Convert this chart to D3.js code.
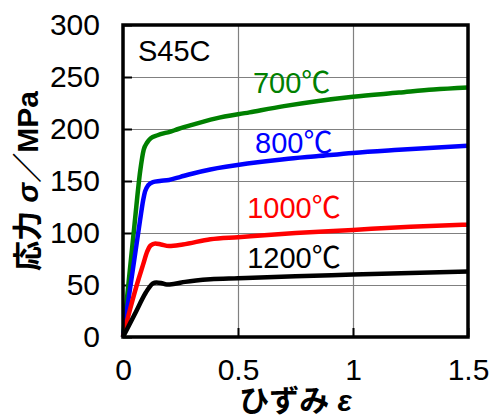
<!DOCTYPE html>
<html>
<head>
<meta charset="utf-8">
<script src="https://cdn.jsdelivr.net/npm/d3@7"></script>
<style>
  body { margin: 0; background: #fff; }
  text { font-family: "Liberation Sans", Arial, "Noto Sans CJK JP", sans-serif; }
</style>
</head>
<body>
<div id="chart"></div>
<script>
// strain / stress readings for S45C at each temperature
const curve700 = [[0,0],[0.05,108],[0.075,160],[0.09,180],[0.105,187],[0.12,191],[0.15,194],[0.18,196],[0.2,197],[0.24,200],[0.3,204],[0.4,210],[0.55,216],[0.7,222],[0.85,227],[1.0,231],[1.2,235],[1.35,238],[1.5,240]];
const curve800 = [[0,0],[0.074,112],[0.088,132],[0.096,140],[0.11,146],[0.13,149],[0.16,150],[0.2,151],[0.25,154],[0.3,157],[0.38,161],[0.55,167],[0.7,171],[0.85,174],[1.0,177],[1.2,180],[1.5,184]];
const curve1000 = [[0,0],[0.03,26],[0.06,50],[0.088,70],[0.105,82],[0.12,88],[0.14,90],[0.165,89],[0.2,87.5],[0.26,89],[0.38,94],[0.5,96],[0.75,100],[1.0,103],[1.25,106],[1.5,108]];
const curve1200 = [[0,0],[0.05,21.5],[0.1,43],[0.115,48],[0.13,51.5],[0.145,52.5],[0.165,52],[0.19,50.5],[0.22,51],[0.27,53],[0.38,55.5],[0.5,56.5],[0.75,58.5],[1.0,60],[1.25,61.5],[1.5,63]];

const seriesNames = ['700℃', '800℃', '1000℃', '1200℃'];
const xTicks = [0, 0.5, 1, 1.5];
const yTicks = [0, 50, 100, 150, 200, 250, 300];

const dims = {width: 489, height: 416};
const margin = {top: 25, right: 21, bottom: 79, left: 123};
const w = dims.width - margin.left - margin.right;
const h = dims.height - margin.top - margin.bottom;

const svg = d3.select('#chart')
    .append('svg')
    .attr('width', dims.width)
    .attr('height', dims.height);

const graph = svg.append('g')
    .attr('transform', `translate(${margin.left}, ${margin.top})`);

const x = d3.scaleLinear().domain([0, 1.5]).range([0, w]);
const y = d3.scaleLinear().domain([0, 300]).range([h, 0]);

// grid
graph.append('g')
    .attr('class', 'grid')
    .call(d3.axisLeft(y).tickValues(yTicks).tickSize(-w).tickFormat(''))
    .call(g => g.select('.domain').remove())
    .call(g => g.selectAll('line').attr('stroke', '#808080').attr('stroke-width', 1.2));
graph.append('g')
    .attr('class', 'grid')
    .attr('transform', `translate(0, ${h})`)
    .call(d3.axisBottom(x).tickValues(xTicks).tickSize(-h).tickFormat(''))
    .call(g => g.select('.domain').remove())
    .call(g => g.selectAll('line').attr('stroke', '#808080').attr('stroke-width', 1.2));

// axes with inward ticks
const yAxis = graph.append('g')
    .call(d3.axisLeft(y).tickValues(yTicks).tickSize(-9).tickPadding(23).tickFormat(d3.format('d')));
yAxis.select('.domain').remove();
yAxis.selectAll('line').attr('stroke', '#000').attr('stroke-width', 2);
yAxis.selectAll('text').attr('font-size', 30).attr('fill', '#000');

const xAxis = graph.append('g')
    .attr('transform', `translate(0, ${h})`)
    .call(d3.axisBottom(x).tickValues(xTicks).tickSize(-9).tickPadding(22).tickFormat(d => d));
xAxis.select('.domain').remove();
xAxis.selectAll('line').attr('stroke', '#000').attr('stroke-width', 2);
xAxis.selectAll('text').attr('font-size', 30).attr('fill', '#000');

// curves
const line = d3.line()
    .x(d => x(d[0]))
    .y(d => y(d[1]))
    .curve(d3.curveMonotoneX);

const color = d3.scaleOrdinal()
    .domain(seriesNames)
    .range(['#008000', '#0000ff', '#ff0000', '#000000']);

const curves = [curve700, curve800, curve1000, curve1200];

graph.selectAll('path.curve')
    .data(curves)
    .enter()
    .append('path')
        .attr('class', 'curve')
        .attr('fill', 'none')
        .attr('stroke', (d, i) => color(seriesNames[i]))
        .attr('stroke-width', 4.5)
        .attr('stroke-linejoin', 'round')
        .attr('d', line);

// frame
graph.append('rect')
    .attr('width', w)
    .attr('height', h)
    .attr('fill', 'none')
    .attr('stroke', '#000')
    .attr('stroke-width', 3.5);

// curve labels
const labelPos = [[0.565, 234.5], [0.574, 177], [0.54, 114.5], [0.54, 66]];
graph.selectAll('text.lbl')
    .data(seriesNames)
    .enter()
    .append('text')
        .attr('class', 'lbl')
        .attr('x', (d, i) => x(labelPos[i][0]))
        .attr('y', (d, i) => y(labelPos[i][1]))
        .attr('fill', d => color(d))
        .attr('font-size', 29)
        .text(d => d);

graph.append('text')
    .attr('x', 15)
    .attr('y', 36)
    .attr('font-size', 29)
    .text('S45C');

// axis titles
const xt = svg.append('text')
    .attr('x', margin.left + w / 2)
    .attr('y', 411)
    .attr('text-anchor', 'middle')
    .attr('font-size', 30)
    .attr('font-weight', 'bold');
xt.append('tspan').text('ひずみ ');
xt.append('tspan').attr('font-style', 'italic').text('ε');

const yt = svg.append('text')
    .attr('transform', `translate(38, ${margin.top + h / 2}) rotate(-90)`)
    .attr('text-anchor', 'middle')
    .attr('font-size', 30)
    .attr('font-weight', 'bold');
yt.append('tspan').text('応力 ');
yt.append('tspan').attr('font-style', 'italic').text('σ');
yt.append('tspan').text('／MPa');
</script>
</body>
</html>
